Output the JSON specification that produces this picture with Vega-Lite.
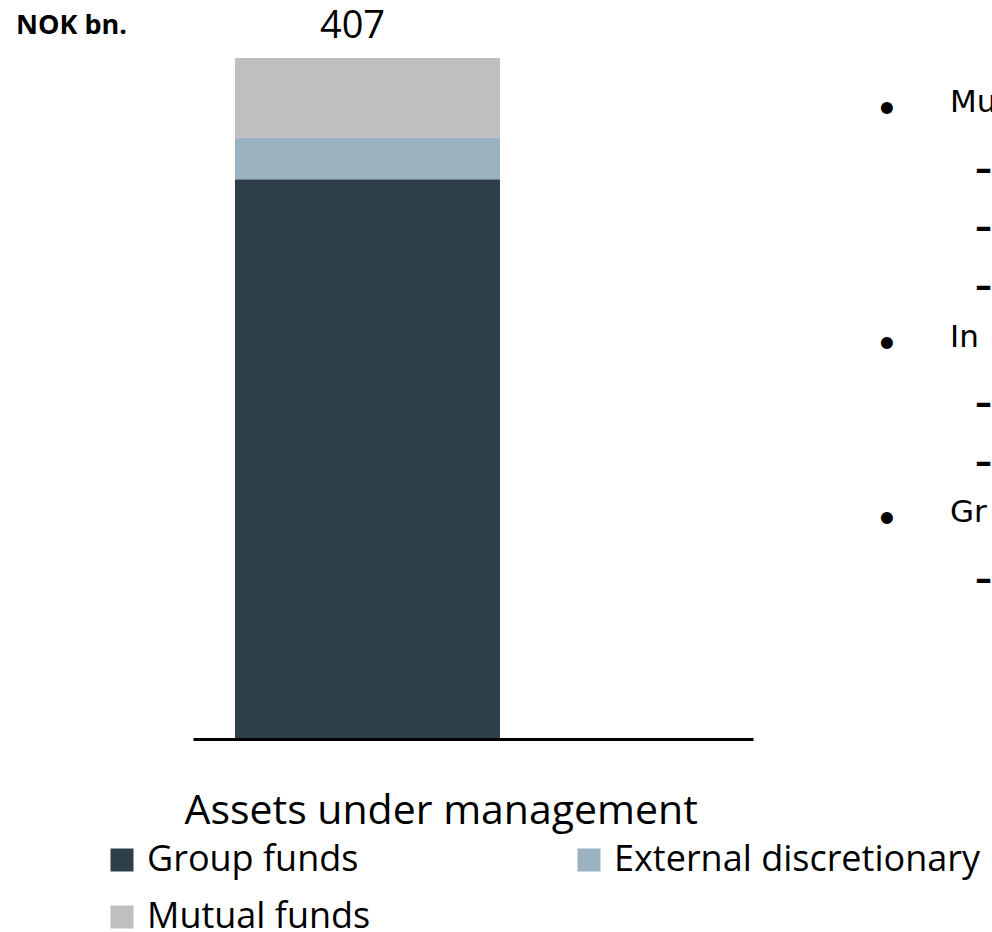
{
  "$schema": "https://vega.github.io/schema/vega-lite/v6.json",
  "autosize": {"type": "none"},
  "padding": {"left": 193, "top": 58, "right": 239, "bottom": 194},
  "width": 560,
  "height": 680,
  "background": "white",
  "title": {"text": "NOK bn.", "anchor": "start", "frame": "group", "font": "Open Sans", "fontSize": 27, "fontWeight": "bold", "color": "black", "dx": -177, "dy": 53, "offset": 0, "baseline": "alphabetic"},
  "config": {"view": {"stroke": null}},
  "datasets": {
    "aum": [
      {"measure": "Assets under management", "component": "Group funds", "stack_order": 1, "value": 334.4},
      {"measure": "Assets under management", "component": "External discretionary", "stack_order": 2, "value": 24.8},
      {"measure": "Assets under management", "component": "Mutual funds", "stack_order": 3, "value": 47.8}
    ],
    "notes": [
      {"line": 1, "kind": "bullet", "marker": "•", "text": "Mu"},
      {"line": 2, "kind": "dash", "marker": "–", "text": ""},
      {"line": 3, "kind": "dash", "marker": "–", "text": ""},
      {"line": 4, "kind": "dash", "marker": "–", "text": ""},
      {"line": 5, "kind": "bullet", "marker": "•", "text": "In"},
      {"line": 6, "kind": "dash", "marker": "–", "text": ""},
      {"line": 7, "kind": "dash", "marker": "–", "text": ""},
      {"line": 8, "kind": "bullet", "marker": "•", "text": "Gr"},
      {"line": 9, "kind": "dash", "marker": "–", "text": ""}
    ]
  },
  "layer": [
    {
      "data": {"name": "aum"},
      "encoding": {
        "x": {"field": "measure", "type": "nominal", "scale": {"paddingInner": 0, "paddingOuter": 0.5566, "align": 0.1424},
          "axis": {"domain": true, "domainColor": "black", "domainWidth": 3, "ticks": false, "labels": false, "grid": false, "offset": 1,
            "title": "Assets under management", "titleFont": "Open Sans", "titleFontSize": 41, "titleFontWeight": "normal", "titleColor": "black",
            "titleX": -9, "titleY": 84, "titleAlign": "left", "titleBaseline": "alphabetic", "titleAnchor": null}}
      },
      "layer": [
        {
          "mark": {"type": "bar"},
          "encoding": {
            "y": {"field": "value", "type": "quantitative", "stack": "zero", "scale": {"domain": [0, 407], "nice": false}, "axis": null},
            "color": {"field": "component", "type": "nominal",
              "scale": {"domain": ["Group funds", "External discretionary", "Mutual funds"], "range": ["#2F3F4A", "#9BB2C1", "#BFBFBF"]},
              "legend": {"orient": "none", "legendX": -89, "legendY": 784, "direction": "horizontal", "columns": 2, "title": null,
                "symbolType": "square", "symbolSize": 529, "symbolStrokeWidth": 0, "symbolOpacity": 1,
                "labelFont": "Open Sans", "labelFontSize": 36, "labelColor": "black", "labelLimit": 0, "labelOffset": 7,
                "columnPadding": 200, "rowPadding": 21, "padding": 0}},
            "order": {"field": "stack_order", "type": "quantitative"}
          }
        },
        {
          "transform": [{"aggregate": [{"op": "sum", "field": "value", "as": "total"}], "groupby": ["measure"]}],
          "mark": {"type": "text", "font": "Open Sans", "fontSize": 38, "baseline": "alphabetic", "dy": -20, "dx": -15, "color": "black"},
          "encoding": {
            "y": {"field": "total", "type": "quantitative"},
            "text": {"field": "total", "type": "quantitative", "format": ".0f"}
          }
        }
      ]
    },
    {
      "data": {"name": "notes"},
      "encoding": {
        "x": {"field": "kind", "type": "nominal", "scale": {"type": "point", "domain": ["bullet", "dash"], "range": [683, 782], "padding": 0}, "axis": null},
        "y": {"field": "line", "type": "ordinal", "scale": {"type": "point", "range": [50, 519], "padding": 0}, "axis": null}
      },
      "layer": [
        {
          "mark": {"type": "text", "font": "DejaVu Sans", "fontSize": 34, "fontWeight": "bold", "align": "left", "baseline": "middle", "dy": 3, "color": "black"},
          "encoding": {"text": {"field": "marker", "type": "nominal"}}
        },
        {
          "transform": [{"filter": "datum.text !== ''"}],
          "mark": {"type": "text", "font": "DejaVu Sans", "fontSize": 31, "align": "left", "baseline": "middle", "dx": 74, "dy": -5, "color": "black"},
          "encoding": {"text": {"field": "text", "type": "nominal"}}
        }
      ]
    }
  ],
  "resolve": {"scale": {"x": "independent", "y": "independent"}}
}
